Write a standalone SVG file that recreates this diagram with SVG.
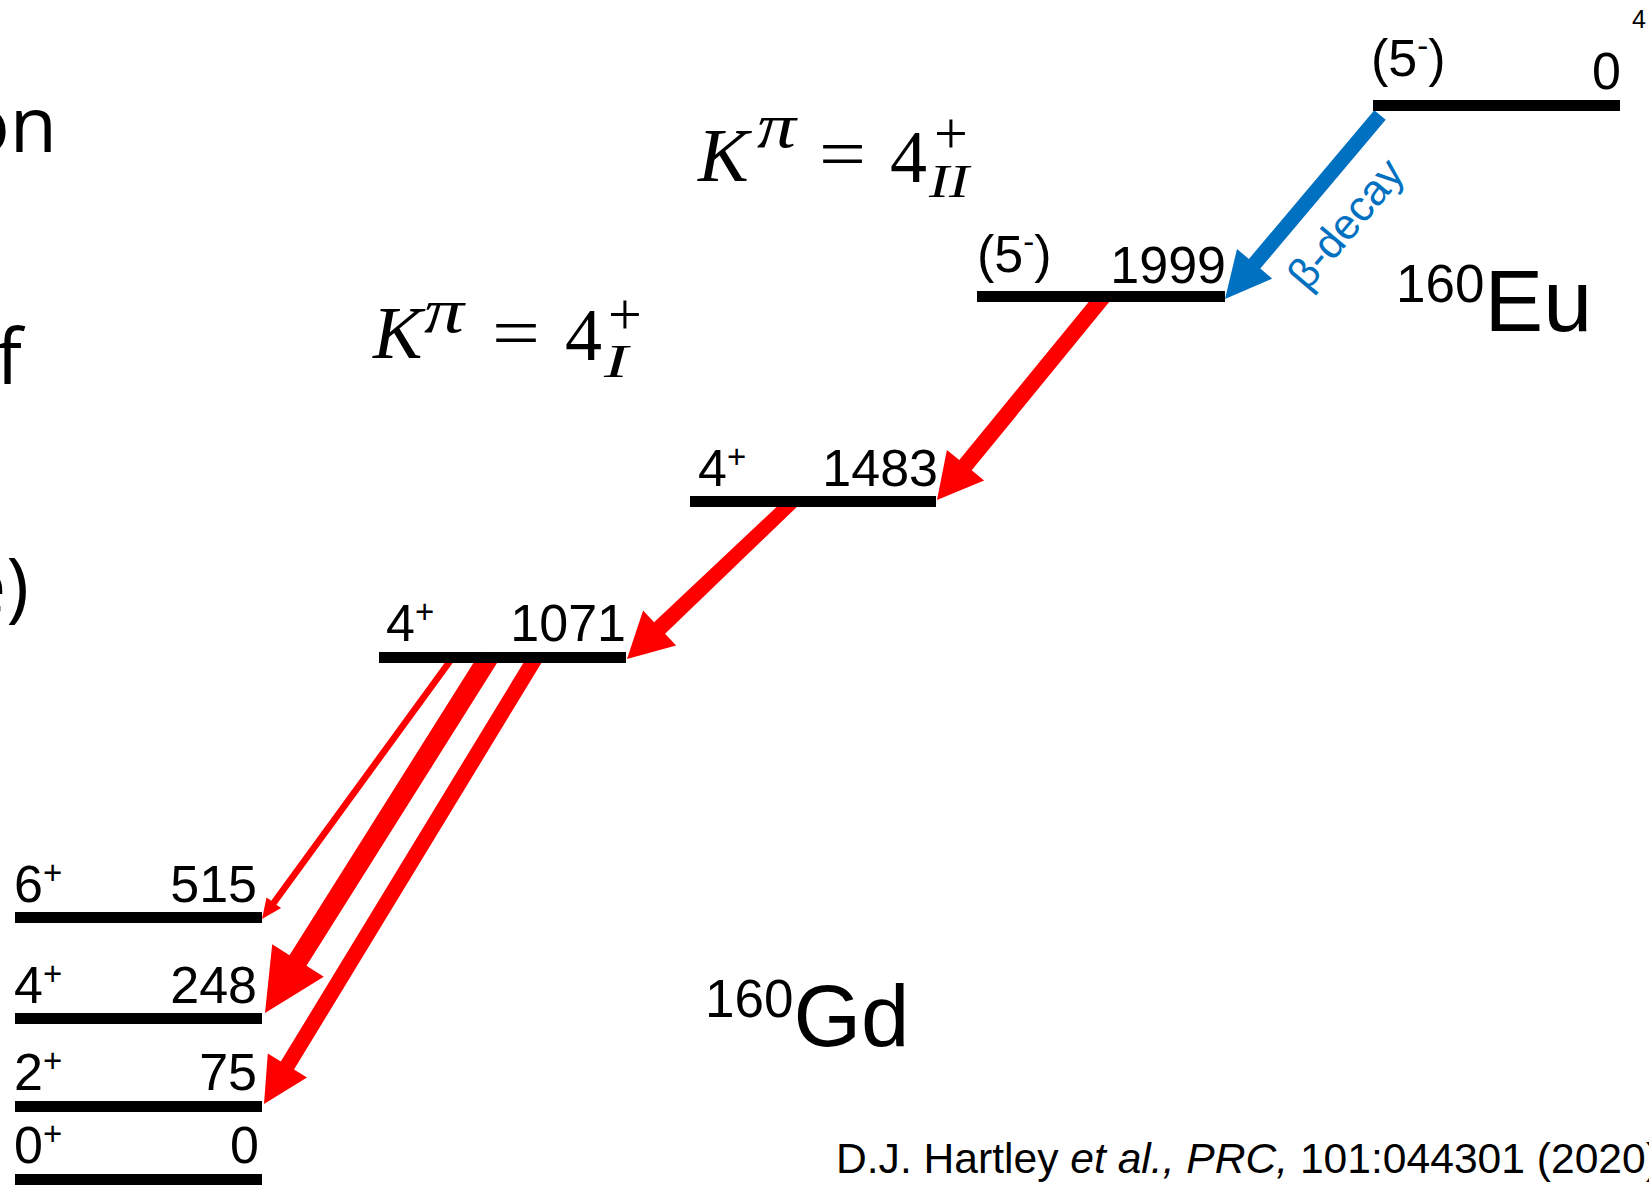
<svg xmlns="http://www.w3.org/2000/svg" width="1649" height="1185" viewBox="0 0 1649 1185">
<style>
.bar{fill:#000}
.lbl{font-family:"Liberation Sans",Arial,sans-serif;font-size:52px;fill:#000}
.sup{font-size:33px}
.red{fill:#FF0000}
.blue{fill:#0070C0}
.math{font-family:"Liberation Serif","Times New Roman",serif;fill:#000}
.it{font-style:italic}
.side{font-family:"Open Sans","Noto Sans",sans-serif;font-size:77px;fill:#000}
</style>
<rect width="1649" height="1185" fill="#fff"/>

<g id="side-text">
<text class="side" x="57" y="152" text-anchor="end">on</text>
<text class="side" x="22" y="384" text-anchor="end">f</text>
<text class="side" x="29" y="613" text-anchor="end">e)</text>
<text class="lbl" x="1632" y="28" style="font-size:25px">4</text>
</g>

<g id="connectors">
<polygon class="blue" points="1374.3,110.2 1248.9,259.0 1237.0,249.0 1225,299 1272.2,278.6 1260.3,268.6 1385.7,119.8"/>
<polygon class="red" points="1096.8,291.9 959.3,460.1 946.9,450.0 937,500 984.1,480.4 971.7,470.3 1109.2,302.1"/>
<polygon class="red" points="787.2,497.0 654.1,622.2 643.1,610.6 627,659 676.1,645.4 665.1,633.8 796.8,507.0"/>
<polygon class="red" points="450.4,655.0 271.2,900.8 266.5,897.5 262,919 281.1,908.1 276.4,904.8 455.6,659.0"/>
<polygon class="red" points="480.5,651.7 289.5,955.2 272.2,944.2 265,1013 323.8,976.8 306.5,965.8 497.5,662.3"/>
<polygon class="red" points="529.4,653.0 280.8,1061.6 267.8,1053.6 264,1104 307.0,1077.6 294.0,1069.6 542.6,661.0"/>
<text x="1346" y="224" transform="rotate(-50 1346 224)" text-anchor="middle" dy="14" style="font-family:'Liberation Sans',Arial,sans-serif;font-size:43px;fill:#0070C0">β-decay</text>
</g>

<g id="eu-0">
<rect class="bar" x="1373" y="100" width="247" height="11"/>
<text class="lbl" x="1371" y="76">(5<tspan class="sup" dy="-19">-</tspan><tspan dy="19">)</tspan></text>
<text class="lbl" x="1621" y="89" text-anchor="end">0</text>
</g>

<g id="eu-label">
<text class="lbl" x="1396" y="302" style="font-size:53px">160<tspan style="font-size:88px" dy="29">Eu</tspan></text>
</g>

<g id="gd-1999">
<rect class="bar" x="977" y="291" width="248" height="11"/>
<text class="lbl" x="977" y="272">(5<tspan class="sup" dy="-19">-</tspan><tspan dy="19">)</tspan></text>
<text class="lbl" x="1226" y="283" text-anchor="end">1999</text>
</g>

<g id="gd-1483">
<rect class="bar" x="690" y="496" width="246" height="11"/>
<text class="lbl" x="698" y="486">4<tspan class="sup" dy="-18">+</tspan></text>
<text class="lbl" x="938" y="486" text-anchor="end">1483</text>
</g>

<g id="gd-1071">
<rect class="bar" x="379" y="652" width="247" height="11"/>
<text class="lbl" x="386" y="641">4<tspan class="sup" dy="-18">+</tspan></text>
<text class="lbl" x="626" y="641" text-anchor="end">1071</text>
</g>

<g id="gd-515">
<rect class="bar" x="15" y="912" width="247" height="11"/>
<text class="lbl" x="14" y="902">6<tspan class="sup" dy="-18">+</tspan></text>
<text class="lbl" x="257" y="902" text-anchor="end">515</text>
</g>

<g id="gd-248">
<rect class="bar" x="15" y="1013" width="247" height="11"/>
<text class="lbl" x="14" y="1003">4<tspan class="sup" dy="-18">+</tspan></text>
<text class="lbl" x="257" y="1003" text-anchor="end">248</text>
</g>

<g id="gd-75">
<rect class="bar" x="15" y="1101" width="247" height="11"/>
<text class="lbl" x="14" y="1090">2<tspan class="sup" dy="-18">+</tspan></text>
<text class="lbl" x="257" y="1090" text-anchor="end">75</text>
</g>

<g id="gd-0">
<rect class="bar" x="15" y="1174" width="247" height="11"/>
<text class="lbl" x="14" y="1163">0<tspan class="sup" dy="-18">+</tspan></text>
<text class="lbl" x="259" y="1163" text-anchor="end">0</text>
</g>

<g id="gd-label">
<text class="lbl" x="705" y="1017" style="font-size:53px">160<tspan style="font-size:87px" dy="29">Gd</tspan></text>
</g>

<g id="band-I">
<text class="math it" x="373" y="358" style="font-size:74px">K</text>
<text class="math it" x="424" y="332" style="font-size:64px" textLength="40" lengthAdjust="spacingAndGlyphs">π</text>
<text class="math" x="492" y="357" style="font-size:72px" textLength="48" lengthAdjust="spacingAndGlyphs">=</text>
<text class="math" x="565" y="360" style="font-size:74px">4</text>
<text class="math" x="608" y="334" style="font-size:60px">+</text>
<text class="math it" x="604" y="377" style="font-size:46px" textLength="24" lengthAdjust="spacingAndGlyphs">I</text>
</g>

<g id="band-II">
<text class="math it" x="698" y="181" style="font-size:76px">K</text>
<text class="math it" x="757" y="147" style="font-size:64px" textLength="39" lengthAdjust="spacingAndGlyphs">π</text>
<text class="math" x="819" y="178" style="font-size:72px" textLength="47" lengthAdjust="spacingAndGlyphs">=</text>
<text class="math" x="890" y="182" style="font-size:74px">4</text>
<text class="math" x="934" y="153" style="font-size:60px">+</text>
<text class="math it" x="929" y="197" style="font-size:46px" textLength="40" lengthAdjust="spacingAndGlyphs">II</text>
</g>

<g id="citation">
<text class="lbl" x="836" y="1173" style="font-size:42.6px">D.J. Hartley <tspan class="it">et al., PRC,</tspan> 101:044301 (2020)</text>
</g>
</svg>
